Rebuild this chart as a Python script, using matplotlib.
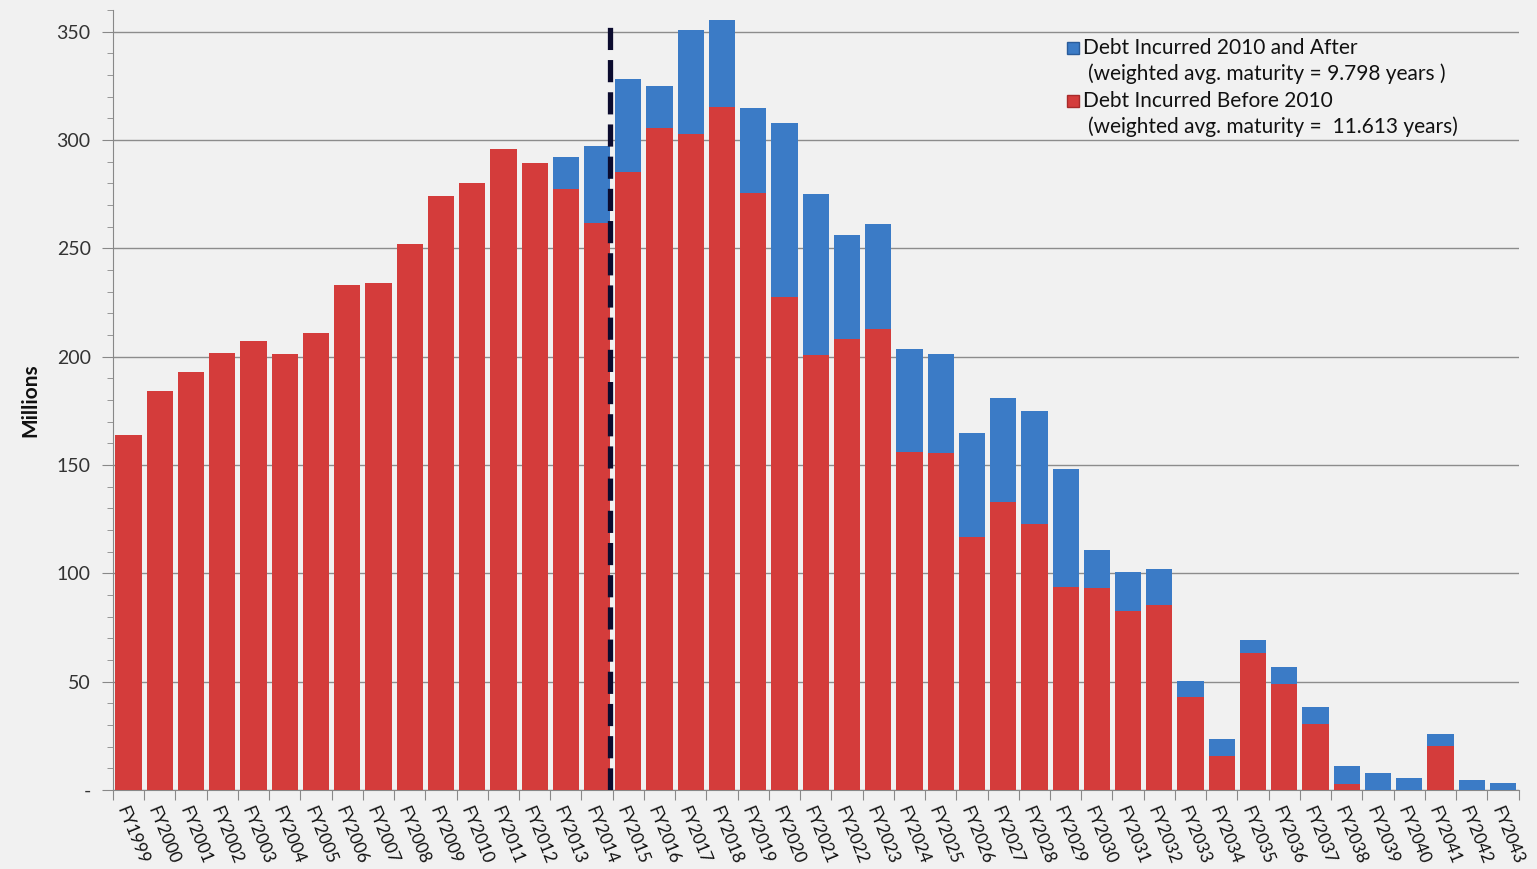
import numpy as np
import matplotlib
matplotlib.use("Agg")
from matplotlib import pyplot as plt
from matplotlib.ticker import MultipleLocator, FixedLocator

# data, in millions
years = ["FY%d" % y for y in range(1999, 2044)]
before_2010 = [164, 184, 193, 201.5, 207, 201, 211, 233, 234, 252, 274, 280, 296, 289.5, 277.5, 261.7,
               285, 305.4, 302.6, 315.4, 275.4, 227.4, 200.6, 208.2, 212.6, 156.2, 155.4, 116.6, 132.8, 122.8,
               93.8, 93.4, 82.6, 85.2, 42.8, 15.7, 63.4, 48.9, 30.5, 2.8, 0, 0, 20.5, 0, 0]
totals = [164, 184, 193, 201.5, 207, 201, 211, 233, 234, 252, 274, 280, 296, 289.5, 292, 297,
          328, 325, 350.8, 355.4, 314.6, 307.7, 275, 256.2, 261.2, 203.5, 201.2, 164.6, 181, 175,
          148.2, 110.8, 100.5, 102, 50.5, 23.4, 69.2, 56.6, 38.2, 11.2, 8.0, 5.5, 25.8, 4.5, 3.1]
after_2010 = [t - b for t, b in zip(totals, before_2010)]

legend_after = ["Debt Incurred 2010 and After", "(weighted avg. maturity = 9.798 years )"]
legend_before = ["Debt Incurred Before 2010", "(weighted avg. maturity =  11.613 years)"]

red = "#D43C3B"
blue = "#3B7BC6"

plt.rcParams['font.family'] = ['Lato', 'DejaVu Sans']

fig = plt.figure(figsize=(15.37, 8.69), dpi=100, facecolor="#F1F1F1")
ax = fig.add_axes([0.0735, 0.0909, 0.9145, 0.8976])
ax.set_facecolor("none")

x = np.arange(len(years))
ax.bar(x, before_2010, width=0.84, color=red, linewidth=0, zorder=3)
ax.bar(x, after_2010, width=0.84, bottom=before_2010, color=blue, linewidth=0, zorder=3)

# dashed divider between FY2014 and FY2015
ax.vlines(15.4, 0, 352, colors="#0B0B2E", linewidth=3.8, linestyles=(0, (4.2, 1.9)), zorder=5)

ax.set_xlim(-0.5, len(years) - 0.5)
ax.set_ylim(0, 360)

ax.yaxis.set_minor_locator(MultipleLocator(10))
yt = np.arange(0, 351, 50)
ax.set_yticks(yt)
ax.set_yticklabels(["-" if v == 0 else str(v) for v in yt], fontsize=14, color="#333333")
ax.grid(axis="y", color="#8C8C8C", linewidth=1.0, zorder=0)

ax.xaxis.set_major_locator(FixedLocator(np.arange(-0.5, len(years), 1)))
ax.xaxis.set_minor_locator(FixedLocator(x))
ax.set_xticklabels([], minor=False)
ax.set_xticklabels(years, minor=True, fontsize=12.5, color="#111111",
                   rotation=-68, ha="left", va="top", rotation_mode="anchor")
ax.tick_params(axis="x", which="major", length=7, color="#888888")
ax.tick_params(axis="x", which="minor", length=0, pad=10)
ax.tick_params(axis="y", which="major", length=8, color="#888888", pad=8)
ax.tick_params(axis="y", which="minor", length=4, color="#888888")

for s in ["top", "right"]:
    ax.spines[s].set_visible(False)
for s in ["left", "bottom"]:
    ax.spines[s].set_color("#888888")

ax.set_ylabel("Millions", fontsize=15, fontweight="bold", labelpad=12, color="#111111")

# legend, built by hand so the swatch sits on the first line
W, H = 1537.0, 869.0
entries = [(blue, "#2A5C9A", legend_after, 48), (red, "#A82A2A", legend_before, 101)]
for face, edge, lines, ypx in entries:
    fig.add_artist(plt.Line2D([1073 / W], [1 - ypx / H], marker="s", markersize=8,
                              markerfacecolor=face, markeredgecolor=edge, linestyle="none",
                              transform=fig.transFigure))
    fig.text(1083 / W, 1 - ypx / H, lines[0], fontsize=15, va="center", ha="left", color="#111111")
    fig.text(1088 / W, 1 - (ypx + 26) / H, lines[1], fontsize=15, va="center", ha="left", color="#111111")

plt.savefig("out.png", dpi=100, facecolor=fig.get_facecolor())
